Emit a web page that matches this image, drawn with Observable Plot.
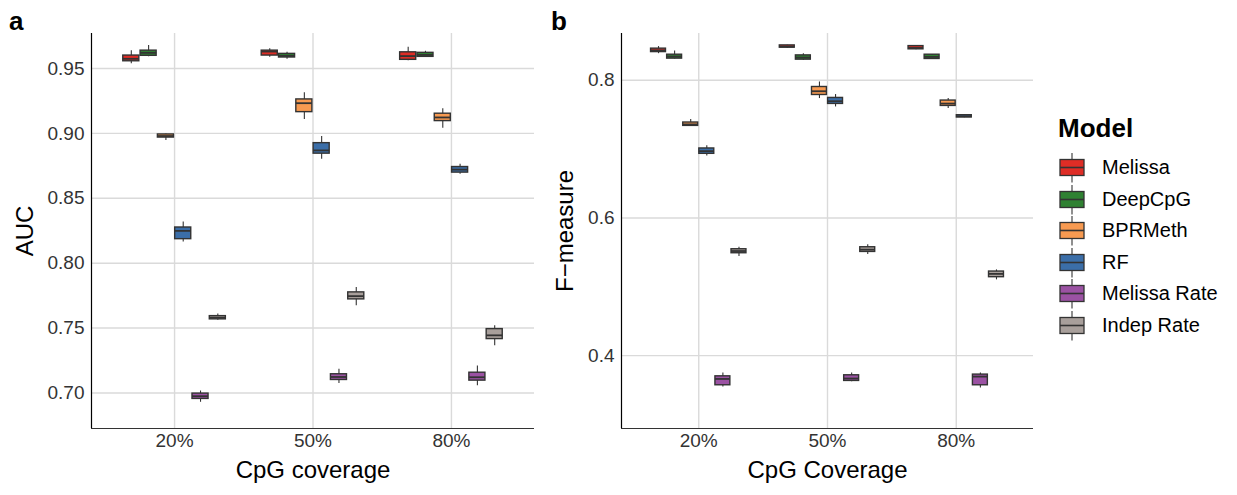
<!DOCTYPE html>
<html><head><meta charset="utf-8">
<script src="https://cdn.jsdelivr.net/npm/d3@7"></script>
<script src="https://cdn.jsdelivr.net/npm/@observablehq/plot@0.6"></script>
<style>
body{margin:0;background:#fff;font-family:"Liberation Sans",Arial,sans-serif;}
#wrap{position:relative;width:1237px;height:495px;overflow:hidden;}
#pa{position:absolute;left:0;top:0}
#pb{position:absolute;left:540px;top:0}
.plab{position:absolute;font-weight:bold;font-size:26px;line-height:26px;color:#000}
#legtitle{position:absolute;left:1058px;top:115px;font-weight:bold;font-size:26px;line-height:26px;color:#000}
#legend{position:absolute;left:1058px;top:152px;color:#000}
#legend .row{display:flex;align-items:center;height:31.5px;}
#legend .row span{font-size:20px;margin-left:16px;}
</style></head><body>
<div id="wrap">
  <div id="pa"></div>
  <div id="pb"></div>
  <div class="plab" style="left:9px;top:8px">a</div>
  <div class="plab" style="left:551px;top:8px">b</div>
  <div id="legtitle">Model</div>
  <div id="legend"></div>
</div>
<script>
const coverages = ["20%", "50%", "80%"];
const models = ["Melissa", "DeepCpG", "BPRMeth", "RF", "Melissa Rate", "Indep Rate"];
const modelColors = ["#de2d26", "#2f8132", "#f79a51", "#3b6ea8", "#9b52a3", "#a89f9b"];

// Panel a: AUC (rows = coverage 20%,50%,80%; columns = models)
const aucLow = [
  [0.9536, 0.9590, 0.8946, 0.8164, 0.6928, 0.7560],
  [0.9587, 0.9572, 0.9108, 0.8800, 0.7072, 0.7672],
  [0.9560, 0.9585, 0.9040, 0.8685, 0.7056, 0.7364]];
const aucQ1 = [
  [0.9556, 0.9598, 0.8968, 0.8185, 0.6954, 0.7567],
  [0.9600, 0.9585, 0.9164, 0.8844, 0.7100, 0.7721],
  [0.9567, 0.9590, 0.9095, 0.8698, 0.7095, 0.7415]];
const aucMed = [
  [0.9575, 0.9621, 0.8980, 0.8249, 0.6975, 0.7580],
  [0.9631, 0.9598, 0.9233, 0.8869, 0.7123, 0.7746],
  [0.9596, 0.9605, 0.9123, 0.8721, 0.7121, 0.7444]];
const aucQ3 = [
  [0.9600, 0.9638, 0.8992, 0.8275, 0.6995, 0.7592],
  [0.9638, 0.9613, 0.9262, 0.8925, 0.7144, 0.7775],
  [0.9625, 0.9621, 0.9152, 0.8741, 0.7156, 0.7492]];
const aucHigh = [
  [0.9638, 0.9677, 0.8995, 0.8318, 0.7015, 0.7608],
  [0.9652, 0.9625, 0.9313, 0.8977, 0.7182, 0.7813],
  [0.9664, 0.9633, 0.9190, 0.8762, 0.7208, 0.7518]];
const aucTicks = [0.70, 0.75, 0.80, 0.85, 0.90, 0.95];

// Panel b: F-measure
const fLow = [
  [0.8387, 0.8310, 0.7330, 0.6899, 0.3546, 0.5440],
  [0.8465, 0.8290, 0.7735, 0.7613, 0.3620, 0.5468],
  [0.8445, 0.8305, 0.7590, 0.7455, 0.3532, 0.5101]];
const fQ1 = [
  [0.8410, 0.8315, 0.7338, 0.6932, 0.3570, 0.5488],
  [0.8474, 0.8300, 0.7787, 0.7657, 0.3633, 0.5507],
  [0.8450, 0.8310, 0.7628, 0.7460, 0.3570, 0.5140]];
const fMed = [
  [0.8435, 0.8345, 0.7360, 0.6971, 0.3662, 0.5520],
  [0.8490, 0.8330, 0.7841, 0.7696, 0.3668, 0.5540],
  [0.8470, 0.8340, 0.7662, 0.7478, 0.3696, 0.5188]];
const fQ3 = [
  [0.8460, 0.8372, 0.7387, 0.7010, 0.3700, 0.5546],
  [0.8507, 0.8362, 0.7903, 0.7744, 0.3715, 0.5575],
  [0.8497, 0.8372, 0.7706, 0.7493, 0.3725, 0.5222]];
const fHigh = [
  [0.8490, 0.8425, 0.7430, 0.7048, 0.3750, 0.5575],
  [0.8510, 0.8387, 0.7976, 0.7793, 0.3750, 0.5613],
  [0.8500, 0.8375, 0.7735, 0.7500, 0.3750, 0.5246]];
const fTicks = [0.4, 0.6, 0.8];

const dodge = 0.125, halfBox = 0.058;

function rows(lo, q1, med, q3, hi) {
  const out = [];
  coverages.forEach((c, g) => models.forEach((m, k) => {
    out.push({coverage: c, model: m, pos: g + 1 + (k - 2.5) * dodge,
      lo: lo[g][k], q1: q1[g][k], med: med[g][k], q3: q3[g][k], hi: hi[g][k]});
  }));
  return out;
}

function panel(data, opts) {
  const ydom = opts.ydom;
  return Plot.plot({
    width: opts.width, height: 495,
    marginTop: 33, marginBottom: 67, marginLeft: opts.ml, marginRight: opts.mr,
    style: {fontFamily: "Liberation Sans, Arial, sans-serif", background: "white", color: "#333", overflow: "visible"},
    x: {type: "linear", domain: [0.4, 3.6]},
    y: {domain: ydom},
    color: {domain: models, range: modelColors},
    marks: [
      Plot.gridY(opts.ticks, {stroke: "#dadada", strokeOpacity: 1, strokeWidth: 1.4}),
      Plot.gridX([1, 2, 3], {stroke: "#dadada", strokeOpacity: 1, strokeWidth: 1.4}),
      Plot.axisY(opts.ticks, {tickSize: 0, tickPadding: 7, fontSize: 19, tickFormat: opts.fmt, label: null, fill: "#333"}),
      Plot.axisX([1, 2, 3], {tickSize: 0, tickPadding: 5, fontSize: 19, tickFormat: i => coverages[i - 1], label: null, fill: "#333"}),
      Plot.ruleX([0.4], {stroke: "#000", strokeWidth: 1.2}),
      Plot.ruleY([ydom[0]], {stroke: "#333", strokeWidth: 1.2}),
      Plot.ruleX(data, {x: "pos", y1: "lo", y2: "hi", stroke: "#333", strokeWidth: 1.1}),
      Plot.rectY(data, {x1: d => d.pos - halfBox, x2: d => d.pos + halfBox, y1: "q1", y2: "q3",
        fill: "model", stroke: "#333", strokeWidth: 1.4}),
      Plot.ruleY(data, {y: "med", x1: d => d.pos - halfBox, x2: d => d.pos + halfBox, stroke: "#333", strokeWidth: 1.8}),
      Plot.text([opts.ylab], {frameAnchor: "left", textAnchor: "middle", lineAnchor: "middle", rotate: -90, dx: opts.ydx, fontSize: 24, fill: "#000"}),
      Plot.text([opts.xlab], {frameAnchor: "bottom", textAnchor: "middle", lineAnchor: "middle", dy: 42, fontSize: 24, fill: "#000"})
    ]
  });
}

document.getElementById("pa").appendChild(panel(rows(aucLow, aucQ1, aucMed, aucQ3, aucHigh), {
  width: 540, ml: 91, mr: 6, ydom: [0.6726, 0.977], ticks: aucTicks, fmt: d => d.toFixed(2),
  ylab: "AUC", ydx: -66, xlab: "CpG coverage"}));
document.getElementById("pb").appendChild(panel(rows(fLow, fQ1, fMed, fQ3, fHigh), {
  width: 500, ml: 81, mr: 7, ydom: [0.2942, 0.868], ticks: fTicks, fmt: d => d.toFixed(1),
  ylab: "F\u2212measure", ydx: -56, xlab: "CpG Coverage"}));

// Legend
const leg = document.getElementById("legend");
models.forEach((m, i) => {
  const r = document.createElement("div"); r.className = "row";
  r.innerHTML = `<svg width="28" height="31.5" style="display:block">
    <line x1="14" x2="14" y1="1" y2="30.5" stroke="#333" stroke-width="1.1"/>
    <rect x="2" y="7.5" width="24" height="16" fill="${modelColors[i]}" stroke="#333" stroke-width="1.3"/>
    <line x1="2" x2="26" y1="15.5" y2="15.5" stroke="#333" stroke-width="1.6"/>
  </svg><span>${m}</span>`;
  leg.appendChild(r);
});
</script>
</body></html>
